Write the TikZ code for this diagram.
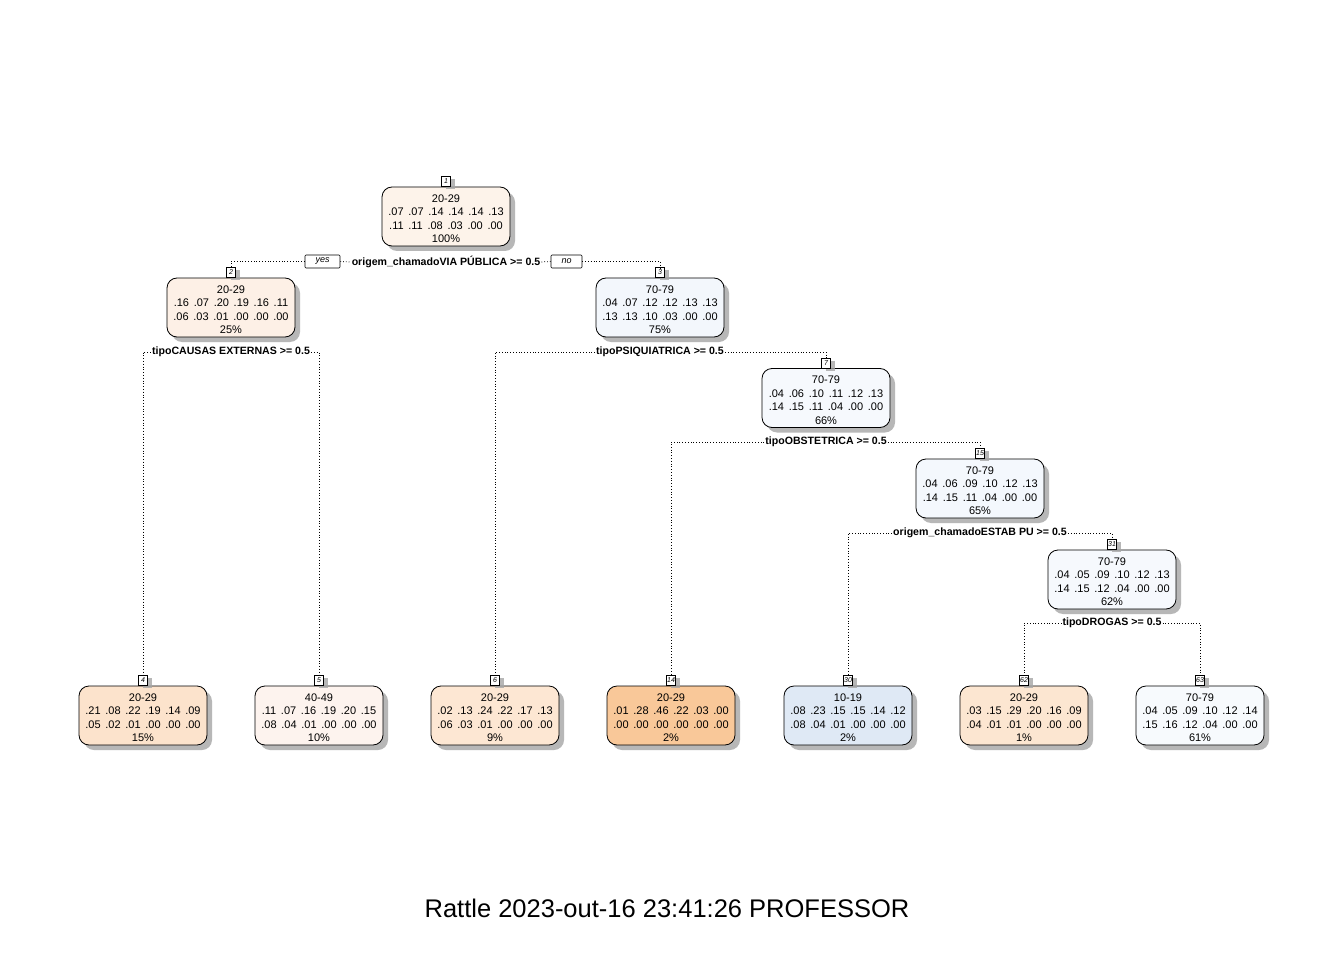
\documentclass[tikz,border=0pt]{standalone}
\usepackage{fontspec}
\setmainfont{Liberation Sans}
\usetikzlibrary{shadows}

\definecolor{cRoot}{HTML}{FDF3EA}
\definecolor{cTwo}{HTML}{FDF0E6}
\definecolor{cThree}{HTML}{F3F7FC}
\definecolor{cSeven}{HTML}{F6F9FD}
\definecolor{cFifteen}{HTML}{F4F8FD}
\definecolor{cThirtyOne}{HTML}{F6F9FD}
\definecolor{cFour}{HTML}{FCE3CC}
\definecolor{cFive}{HTML}{FDF3EE}
\definecolor{cSix}{HTML}{FDE7D3}
\definecolor{cFourteen}{HTML}{F9C899}
\definecolor{cThirty}{HTML}{DFE9F5}
\definecolor{cSixtyTwo}{HTML}{FCE6D1}
\definecolor{cSixtyThree}{HTML}{F7FAFD}

\newcommand{\probs}[6]{#1\hspace{4.7pt}#2\hspace{4.7pt}#3\hspace{4.7pt}#4\hspace{4.7pt}#5\hspace{4.7pt}#6}
\newcommand{\cls}[1]{\rule{0pt}{12pt}#1}

\begin{document}
\begin{tikzpicture}[x=1pt,y=-1pt,
    tnode/.style={draw, line width=0.8pt, rounded corners=10pt, minimum width=128pt, minimum height=59pt,
        align=center, inner sep=0pt, font=\fontsize{11}{13.5}\selectfont,
        drop shadow={shadow xshift=5pt, shadow yshift=-5pt, fill=black!35, opacity=0.8}},
    idbox/.style={draw, line width=0.6pt, fill=white, inner sep=0pt, minimum width=9pt, minimum height=10pt,
        font=\fontsize{7}{8}\selectfont\itshape,
        drop shadow={shadow xshift=4pt, shadow yshift=-3pt, fill=black!35, opacity=0.8}},
    split/.style={inner sep=1pt, font=\fontsize{10.6}{12}\selectfont\bfseries},
    yesno/.style={draw, line width=0.6pt, rounded corners=1pt, fill=white, inner sep=0pt,
        minimum height=13pt, font=\fontsize{9}{10}\selectfont\itshape},
    conn/.style={line width=0.8pt, dash pattern=on 0.8pt off 2pt}
]
    \fill[white] (0,0) rectangle (1344,960);
    \useasboundingbox (0,0) rectangle (1344,960);

    % inner nodes
    \node[tnode, fill=cRoot] (n1) at (446,216.5) {\cls{20-29}\\\probs{.07}{.07}{.14}{.14}{.14}{.13}\\\probs{.11}{.11}{.08}{.03}{.00}{.00}\\100\%};
    \node[idbox, anchor=south] (n1id) at (n1.north) {1};
    \node[tnode, fill=cTwo] (n2) at (231,307.5) {\cls{20-29}\\\probs{.16}{.07}{.20}{.19}{.16}{.11}\\\probs{.06}{.03}{.01}{.00}{.00}{.00}\\25\%};
    \node[idbox, anchor=south] (n2id) at (n2.north) {2};
    \node[tnode, fill=cThree] (n3) at (660,307.5) {\cls{70-79}\\\probs{.04}{.07}{.12}{.12}{.13}{.13}\\\probs{.13}{.13}{.10}{.03}{.00}{.00}\\75\%};
    \node[idbox, anchor=south] (n3id) at (n3.north) {3};
    \node[tnode, fill=cSeven] (n7) at (826,398) {\cls{70-79}\\\probs{.04}{.06}{.10}{.11}{.12}{.13}\\\probs{.14}{.15}{.11}{.04}{.00}{.00}\\66\%};
    \node[idbox, anchor=south] (n7id) at (n7.north) {7};
    \node[tnode, fill=cFifteen] (n15) at (980,488.5) {\cls{70-79}\\\probs{.04}{.06}{.09}{.10}{.12}{.13}\\\probs{.14}{.15}{.11}{.04}{.00}{.00}\\65\%};
    \node[idbox, anchor=south] (n15id) at (n15.north) {15};
    \node[tnode, fill=cThirtyOne] (n31) at (1112,579.5) {\cls{70-79}\\\probs{.04}{.05}{.09}{.10}{.12}{.13}\\\probs{.14}{.15}{.12}{.04}{.00}{.00}\\62\%};
    \node[idbox, anchor=south] (n31id) at (n31.north) {31};

    % leaves
    \node[tnode, fill=cFour] (n4) at (143,715.5) {\cls{20-29}\\\probs{.21}{.08}{.22}{.19}{.14}{.09}\\\probs{.05}{.02}{.01}{.00}{.00}{.00}\\15\%};
    \node[idbox, anchor=south] (n4id) at (n4.north) {4};
    \node[tnode, fill=cFive] (n5) at (319,715.5) {\cls{40-49}\\\probs{.11}{.07}{.16}{.19}{.20}{.15}\\\probs{.08}{.04}{.01}{.00}{.00}{.00}\\10\%};
    \node[idbox, anchor=south] (n5id) at (n5.north) {5};
    \node[tnode, fill=cSix] (n6) at (495,715.5) {\cls{20-29}\\\probs{.02}{.13}{.24}{.22}{.17}{.13}\\\probs{.06}{.03}{.01}{.00}{.00}{.00}\\9\%};
    \node[idbox, anchor=south] (n6id) at (n6.north) {6};
    \node[tnode, fill=cFourteen] (n14) at (671,715.5) {\cls{20-29}\\\probs{.01}{.28}{.46}{.22}{.03}{.00}\\\probs{.00}{.00}{.00}{.00}{.00}{.00}\\2\%};
    \node[idbox, anchor=south] (n14id) at (n14.north) {14};
    \node[tnode, fill=cThirty] (n30) at (848,715.5) {\cls{10-19}\\\probs{.08}{.23}{.15}{.15}{.14}{.12}\\\probs{.08}{.04}{.01}{.00}{.00}{.00}\\2\%};
    \node[idbox, anchor=south] (n30id) at (n30.north) {30};
    \node[tnode, fill=cSixtyTwo] (n62) at (1024,715.5) {\cls{20-29}\\\probs{.03}{.15}{.29}{.20}{.16}{.09}\\\probs{.04}{.01}{.01}{.00}{.00}{.00}\\1\%};
    \node[idbox, anchor=south] (n62id) at (n62.north) {62};
    \node[tnode, fill=cSixtyThree] (n63) at (1200,715.5) {\cls{70-79}\\\probs{.04}{.05}{.09}{.10}{.12}{.14}\\\probs{.15}{.16}{.12}{.04}{.00}{.00}\\61\%};
    \node[idbox, anchor=south] (n63id) at (n63.north) {63};

    % split labels
    \node[split] (s1) at (446,262) {origem\_chamadoVIA PÚBLICA >= 0.5};
    \node[yesno, minimum width=35pt] (yes) at (322.5,261.5) {yes};
    \node[yesno, minimum width=31pt] (no) at (566.5,261.5) {no};
    \node[split] (s2) at (231,352) {tipoCAUSAS EXTERNAS >= 0.5};
    \node[split] (s3) at (660,352) {tipoPSIQUIATRICA >= 0.5};
    \node[split] (s7) at (826,442) {tipoOBSTETRICA >= 0.5};
    \node[split] (s15) at (980,533) {origem\_chamadoESTAB PU >= 0.5};
    \node[split] (s31) at (1112,623) {tipoDROGAS >= 0.5};

    % connectors
    \draw[conn] (yes.west) -| ([yshift=-1pt]n2id.north);
    \draw[conn] (yes.east) -- (s1.west);
    \draw[conn] (s1.east) -- (no.west);
    \draw[conn] (no.east) -| ([yshift=-1pt]n3id.north);
    \draw[conn] (s2.west) -| ([yshift=-1pt]n4id.north);
    \draw[conn] (s2.east) -| ([yshift=-1pt]n5id.north);
    \draw[conn] (s3.west) -| ([yshift=-1pt]n6id.north);
    \draw[conn] (s3.east) -| ([yshift=-1pt]n7id.north);
    \draw[conn] (s7.west) -| ([yshift=-1pt]n14id.north);
    \draw[conn] (s7.east) -| ([yshift=-1pt]n15id.north);
    \draw[conn] (s15.west) -| ([yshift=-1pt]n30id.north);
    \draw[conn] (s15.east) -| ([yshift=-1pt]n31id.north);
    \draw[conn] (s31.west) -| ([yshift=-1pt]n62id.north);
    \draw[conn] (s31.east) -| ([yshift=-1pt]n63id.north);

    % title
    \node[font=\fontsize{25.5}{30}\selectfont] (title) at (667,908) {Rattle 2023-out-16 23:41:26 PROFESSOR};
\end{tikzpicture}
\end{document}
